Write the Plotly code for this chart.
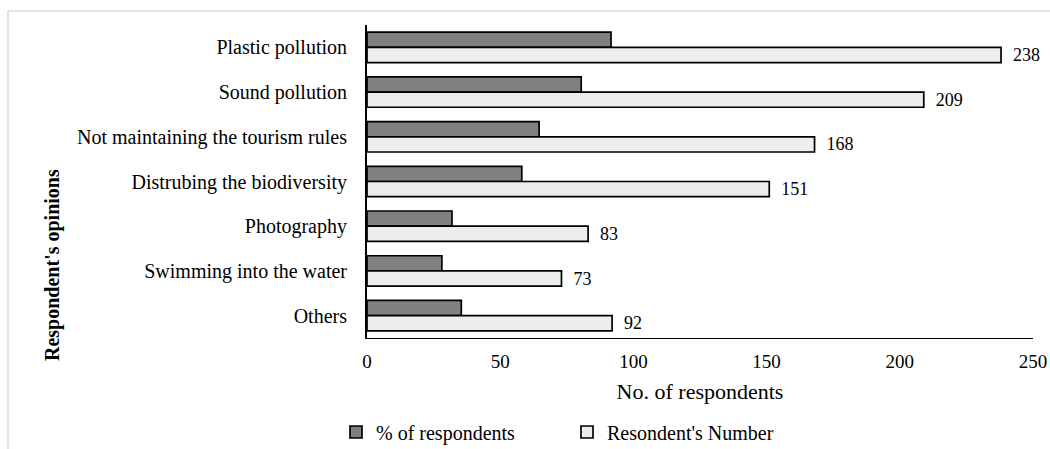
import plotly.graph_objects as go

categories = [
    "Plastic pollution",
    "Sound pollution",
    "Not maintaining the tourism rules",
    "Distrubing the biodiversity",
    "Photography",
    "Swimming into the water",
    "Others",
]
respondent_numbers = [238, 209, 168, 151, 83, 73, 92]
percent_respondents = [91.6, 80.4, 64.6, 58.1, 31.9, 28.1, 35.4]
x_ticks = [0, 50, 100, 150, 200, 250]

FONT = "Liberation Serif, Times New Roman, serif"

fig = go.Figure()
fig.add_trace(go.Bar(
    y=categories, x=percent_respondents, orientation="h",
    name="% of respondents",
    marker=dict(color="#808080", line=dict(color="#000000", width=1.7)),
    hoverinfo="x+y",
))
fig.add_trace(go.Bar(
    y=categories, x=respondent_numbers, orientation="h",
    name="Resondent's Number",
    marker=dict(color="#EDEDED", line=dict(color="#000000", width=1.7)),
    text=respondent_numbers,
    texttemplate="\u00a0\u00a0%{x}",
    textposition="outside",
    constraintext="none",
    cliponaxis=False,
    textfont=dict(family=FONT, size=18, color="#000000"),
))

L, R, T, B = 367, 17, 25, 111
W, H = 1050, 449
pw = W - L - R
ph = H - T - B

def px2x(p):
    return (p - L) / pw

def py2y(p):
    return (H - B - p) / ph

fig.update_layout(
    width=W, height=H,
    margin=dict(l=L, r=R, t=T, b=B, autoexpand=False),
    paper_bgcolor="white", plot_bgcolor="white",
    font=dict(family=FONT, size=18, color="#000000"),
    barmode="group", bargap=0.32, bargroupgap=0,
    showlegend=True,
    legend=dict(
        orientation="h", x=px2x(336), xanchor="left",
        y=py2y(432), yanchor="middle",
        font=dict(family=FONT, size=20, color="#000000"),
        entrywidth=186, entrywidthmode="pixels",
        traceorder="normal", bgcolor="rgba(0,0,0,0)",
    ),
    xaxis=dict(
        range=[0, 250], tickvals=x_ticks, ticktext=[str(v) for v in x_ticks],
        showgrid=False, zeroline=False, automargin=False,
        showline=True, linecolor="#000000", linewidth=1,
        ticks="", ticklabelstandoff=6,
        tickfont=dict(family=FONT, size=19, color="#000000"),
        title=dict(text="No. of respondents", standoff=12,
                   font=dict(family=FONT, size=22, color="#000000")),
    ),
    yaxis=dict(
        autorange="reversed", type="category", automargin=False,
        showgrid=False, zeroline=False,
        showline=True, linecolor="#000000", linewidth=2,
        ticks="", ticklabelstandoff=14,
        tickfont=dict(family=FONT, size=20, color="#000000"),
    ),
    shapes=[dict(
        type="rect", xref="paper", yref="paper",
        x0=px2x(8), x1=px2x(1100), y0=py2y(500), y1=py2y(11),
        line=dict(color="#D9D9D9", width=1.5), fillcolor="rgba(0,0,0,0)",
        layer="below",
    )],
    annotations=[dict(
        text="<b>Respondent's opinions</b>", textangle=-90,
        xref="paper", yref="paper", x=px2x(52), y=py2y(265),
        xanchor="center", yanchor="middle", showarrow=False,
        font=dict(family=FONT, size=20, color="#000000"),
    )],
)

fig.write_html(
    "out.html",
    config={"displayModeBar": False},
    post_script="document.body.style.margin='0px';document.body.style.overflow='hidden';",
)
